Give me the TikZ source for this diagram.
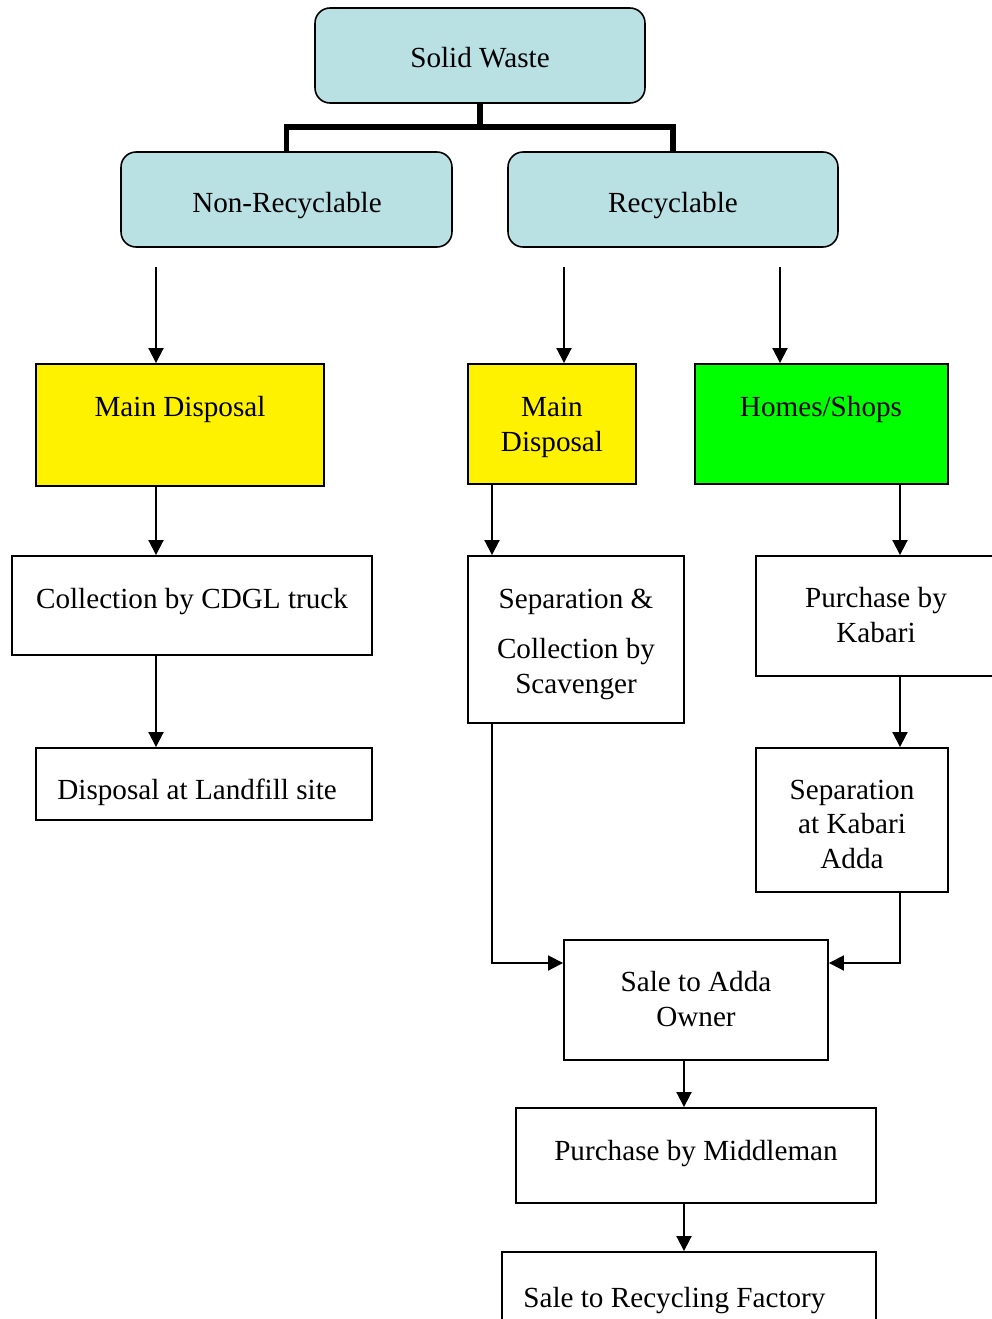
\documentclass[tikz,border=0pt]{standalone}
\usepackage{fontspec}
\setmainfont{Liberation Serif}
\usetikzlibrary{arrows.meta}
\definecolor{paleblue}{RGB}{185,224,227}

\begin{document}
\begin{tikzpicture}[x=0.02cm, y=-0.02cm,
  every node/.style={font=\fontsize{16.6}{19.4}\selectfont, inner sep=0pt, align=center},
  blue/.style={draw=black, line width=0.9pt, fill=paleblue, rounded corners=0.3cm},
  box/.style={draw=black, line width=1.1pt},
  txt/.style={anchor=base},
  tree/.style={black, line width=3.4pt},
  arr/.style={black, line width=1.1pt, -{Triangle[length=0.3cm, width=0.3cm]}}]
\useasboundingbox (0,0) rectangle (991,1319);

% top level
\node[blue, minimum width=6.6cm, minimum height=1.9cm] (sw) at (480,55.5) {};
\node[blue, minimum width=6.62cm, minimum height=1.9cm] (nr) at (286.5,199.5) {};
\node[blue, minimum width=6.6cm, minimum height=1.9cm] (rc) at (673,199.5) {};
\node[txt] (swt) at (480,67) {Solid Waste};
\node[txt] (nrt) at (287,212) {Non-Recyclable};
\node[txt] (rct) at (673,212) {Recyclable};
\coordinate (t) at (480,127);
\draw[tree] (sw.south) -- (t);
\draw[tree] (nr.north) |- (t) -| (rc.north);

% second level
\node[box, fill=yellow, minimum width=5.76cm, minimum height=2.44cm] (mdl) at (180,425) {};
\node[box, fill=yellow, minimum width=3.36cm, minimum height=2.4cm] (mdr) at (552,424) {};
\node[box, fill=green, minimum width=5.06cm, minimum height=2.4cm] (hs) at (821.5,424) {};
\node[txt] (mdlt) at (180,416) {Main Disposal};
\node[txt] (mdrt) at (552,451) {Main\\Disposal};
\node[txt] (hst) at (821,416) {Homes/Shops};

% non-recyclable path
\node[box, minimum width=7.2cm, minimum height=1.98cm] (coll) at (192,605.5) {};
\node[box, minimum width=6.72cm, minimum height=1.44cm] (land) at (204,784) {};
\node[txt] (collt) at (192,608) {Collection by CDGL truck};
\node[txt, anchor=base west] (landt) at (57,799) {Disposal at Landfill site};

% recyclable path
\node[box, minimum width=4.32cm, minimum height=3.34cm] (sep) at (576,639.5) {};
\node[box, minimum width=4.8cm, minimum height=2.4cm] (kab) at (876,616) {};
\node[box, minimum width=3.84cm, minimum height=2.88cm] (adda) at (852,820) {};
\node[box, minimum width=5.28cm, minimum height=2.4cm] (sale) at (696,1000) {};
\node[box, minimum width=7.2cm, minimum height=1.9cm] (mid) at (696,1155.5) {};
\node[box, minimum width=7.48cm, minimum height=1.76cm] (fac) at (689,1296) {};
\node[txt] (sept) at (576,693) {Separation \&\\[0.32cm]Collection by\\Scavenger};
\node[txt] (kabt) at (876,642) {Purchase by\\Kabari};
\node[txt] (addat) at (852,868) {Separation\\at Kabari\\Adda};
\node[txt] (salet) at (696,1026) {Sale to Adda\\Owner};
\node[txt] (midt) at (696,1160) {Purchase by Middleman};
\node[txt, anchor=base west] (fact) at (523,1307) {Sale to Recycling Factory};

% arrows
\coordinate (a1) at (156,267);
\coordinate (a2) at (564,267);
\coordinate (a3) at (780,267);
\coordinate (j1) at (492,963);
\coordinate (j2) at (900,963);
\draw[arr] (a1) -- (a1 |- mdl.north);
\draw[arr] (a2) -- (a2 |- mdr.north);
\draw[arr] (a3) -- (a3 |- hs.north);
\draw[arr] (a1 |- mdl.south) -- (a1 |- coll.north);
\draw[arr] (a1 |- coll.south) -- (a1 |- land.north);
\draw[arr] (j1 |- mdr.south) -- (j1 |- sep.north);
\draw[arr] (j2 |- hs.south) -- (j2 |- kab.north);
\draw[arr] (j2 |- kab.south) -- (j2 |- adda.north);
\draw[arr] (j1 |- sep.south) -- (j1) -- (j1 -| sale.west);
\draw[arr] (j2 |- adda.south) -- (j2) -- (j2 -| sale.east);
\draw[arr] (684,0 |- sale.south) -- (684,0 |- mid.north);
\draw[arr] (684,0 |- mid.south) -- (684,0 |- fac.north);
\end{tikzpicture}
\end{document}
